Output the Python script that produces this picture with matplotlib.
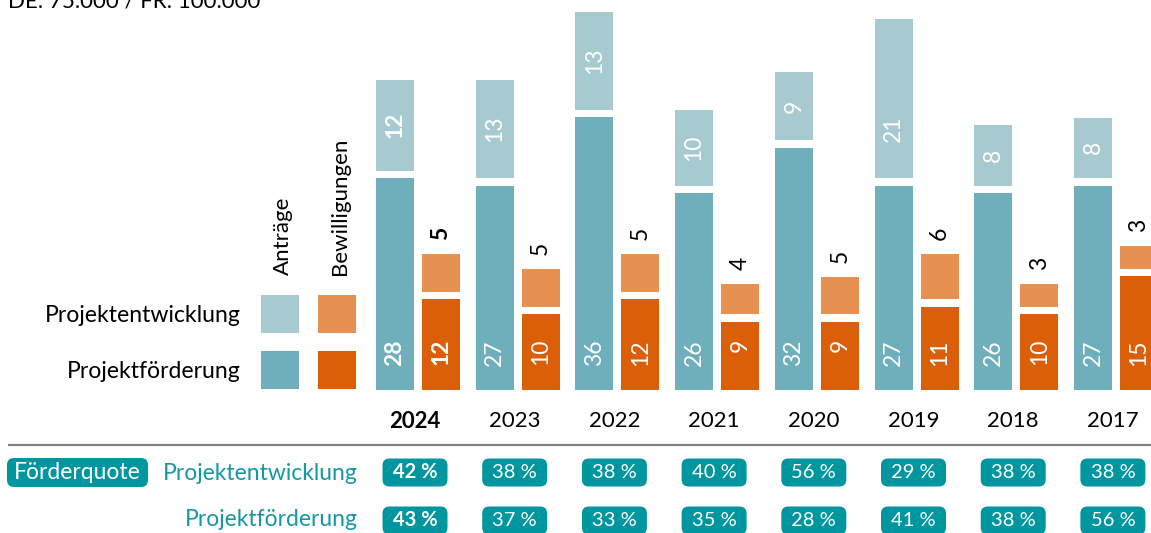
import matplotlib
matplotlib.use('Agg')
import matplotlib.pyplot as plt
from matplotlib.patches import FancyBboxPatch, Rectangle
import numpy as np

# ---------------- data ----------------
years = ['2024', '2023', '2022', '2021', '2020', '2019', '2018', '2017']
antraege_pf = [28, 27, 36, 26, 32, 27, 26, 27]      # Anträge Projektförderung
antraege_pe = [12, 13, 13, 10, 9, 21, 8, 8]         # Anträge Projektentwicklung
bewill_pf = [12, 10, 12, 9, 9, 11, 10, 15]          # Bewilligungen Projektförderung
bewill_pe = [5, 5, 5, 4, 5, 6, 3, 3]                # Bewilligungen Projektentwicklung
quote_pe = ['42 %', '38 %', '38 %', '40 %', '56 %', '29 %', '38 %', '38 %']
quote_pf = ['43 %', '37 %', '33 %', '35 %', '28 %', '41 %', '38 %', '56 %']
header = 'DE: 75.000 / FR: 100.000'

# ---------------- style ----------------
W, H, DPI = 1151, 533, 100
plt.rcParams['font.family'] = ['Lato', 'DejaVu Sans']

C_PF_A = '#6EAFBB'
C_PE_A = '#A7CAD1'
C_PF_B = '#DB5F08'
C_PE_B = '#E69151'
C_BADGE = '#00969F'
C_TEAL_TXT = '#1598A3'

fig = plt.figure(figsize=(W / DPI, H / DPI), dpi=DPI)

# main bar axes, full figure; scales chosen so groups/values land where the reference has them
c0, step = 418.0, 99.7        # pixel centre of first group, pixel step between groups
base_px, ppu = 390.0, 7.57    # baseline pixel (from top), pixels per unit
ax = fig.add_axes([0, 0, 1, 1])
ax.set_xlim(-c0 / step, (W - c0) / step)
ax.set_ylim(-(H - base_px) / ppu, base_px / ppu)
ax.axis('off')

# overlay axes in pixel coordinates for decorations
ov = fig.add_axes([0, 0, 1, 1], zorder=3)
ov.set_xlim(0, W)
ov.set_ylim(H, 0)
ov.axis('off')
ov.patch.set_alpha(0)

x = np.arange(len(years))
off = 23 / step
bw = 38 / step
gap = 7.5 / ppu

a_pf = np.array(antraege_pf)
a_pe = np.array(antraege_pe)
b_pf = np.array(bewill_pf)
b_pe = np.array(bewill_pe)

ax.bar(x - off, a_pf, bw, color=C_PF_A, linewidth=0)
ax.bar(x - off, a_pe, bw, bottom=a_pf + gap, color=C_PE_A, linewidth=0)
ax.bar(x + off, b_pf, bw, color=C_PF_B, linewidth=0)
ax.bar(x + off, b_pe, bw, bottom=b_pf + gap, color=C_PE_B, linewidth=0)

FS_VAL = 16.5
for i in range(len(years)):
    bold = 'bold' if i == 0 else 'normal'
    # bottom labels (Projektförderung)
    for xx, v in ((x[i] - off, a_pf[i]), (x[i] + off, b_pf[i])):
        ax.annotate(str(v), (xx, 0), xytext=(0, 51), textcoords='offset pixels',
                    rotation=90, ha='center', va='top', color='white',
                    fontsize=FS_VAL, fontweight=bold)
    # Projektentwicklung Anträge label inside segment
    yc = a_pf[i] + gap + min(a_pe[i] / 2, 6.5)
    ax.text(x[i] - off, yc, str(a_pe[i]), rotation=90, ha='center', va='center',
            color='white', fontsize=FS_VAL, fontweight=bold)
    # Projektentwicklung Bewilligungen label above stack
    ax.annotate(str(b_pe[i]), (x[i] + off, b_pf[i] + gap + b_pe[i]), xytext=(0, 14),
                textcoords='offset pixels', rotation=90, ha='center', va='bottom',
                color='black', fontsize=FS_VAL, fontweight=bold)

# year labels
for i, y in enumerate(years):
    px = ax.transData.transform((x[i], 0))[0]
    ov.text(px - 3, 421, y, ha='center', va='center', fontsize=16,
            fontweight='bold' if i == 0 else 'normal', color='black')

# header (cut off at top, as in the reference)
ov.text(8, 7, header, ha='left', va='baseline', fontsize=16, color='black')

# legend
ov.add_patch(Rectangle((261, 295), 38, 38, color=C_PE_A, lw=0))
ov.add_patch(Rectangle((318, 295), 38, 38, color=C_PE_B, lw=0))
ov.add_patch(Rectangle((261, 351), 38, 38, color=C_PF_A, lw=0))
ov.add_patch(Rectangle((318, 351), 38, 38, color=C_PF_B, lw=0))
ov.text(241, 315, 'Projektentwicklung', ha='right', va='center', fontsize=16.6)
ov.text(241, 372, 'Projektförderung', ha='right', va='center', fontsize=16.6)
ov.text(283, 275, 'Anträge', rotation=90, ha='center', va='bottom', fontsize=16)
ov.text(340, 275, 'Bewilligungen', rotation=90, ha='center', va='bottom', fontsize=16)

# separator
ov.plot([8, W], [444.5, 444.5], color='#808080', lw=1.6, solid_capstyle='butt')

# Förderquote badge
ov.add_patch(FancyBboxPatch((10, 461), 135, 23, boxstyle='round,pad=3,rounding_size=7',
                            fc=C_BADGE, ec='none'))
ov.text(77, 472.5, 'Förderquote', ha='center', va='center', color='white', fontsize=16.5)
ov.text(358, 473, 'Projektentwicklung', ha='right', va='center', color=C_TEAL_TXT, fontsize=16.5)
ov.text(358, 520, 'Projektförderung', ha='right', va='center', color=C_TEAL_TXT, fontsize=16.5)

for i in range(len(years)):
    px = ax.transData.transform((x[i], 0))[0] - 3
    bold = 'bold' if i == 0 else 'normal'
    for yc, txt in ((472.5, quote_pe[i]), (520.5, quote_pf[i])):
        ov.add_patch(FancyBboxPatch((px - 29.5, yc - 11), 59, 22,
                                    boxstyle='round,pad=3,rounding_size=7',
                                    fc=C_BADGE, ec='none'))
        ov.text(px, yc, txt, ha='center', va='center', color='white', fontsize=14.5,
                fontweight=bold)

fig.savefig('out.png', dpi=DPI)
